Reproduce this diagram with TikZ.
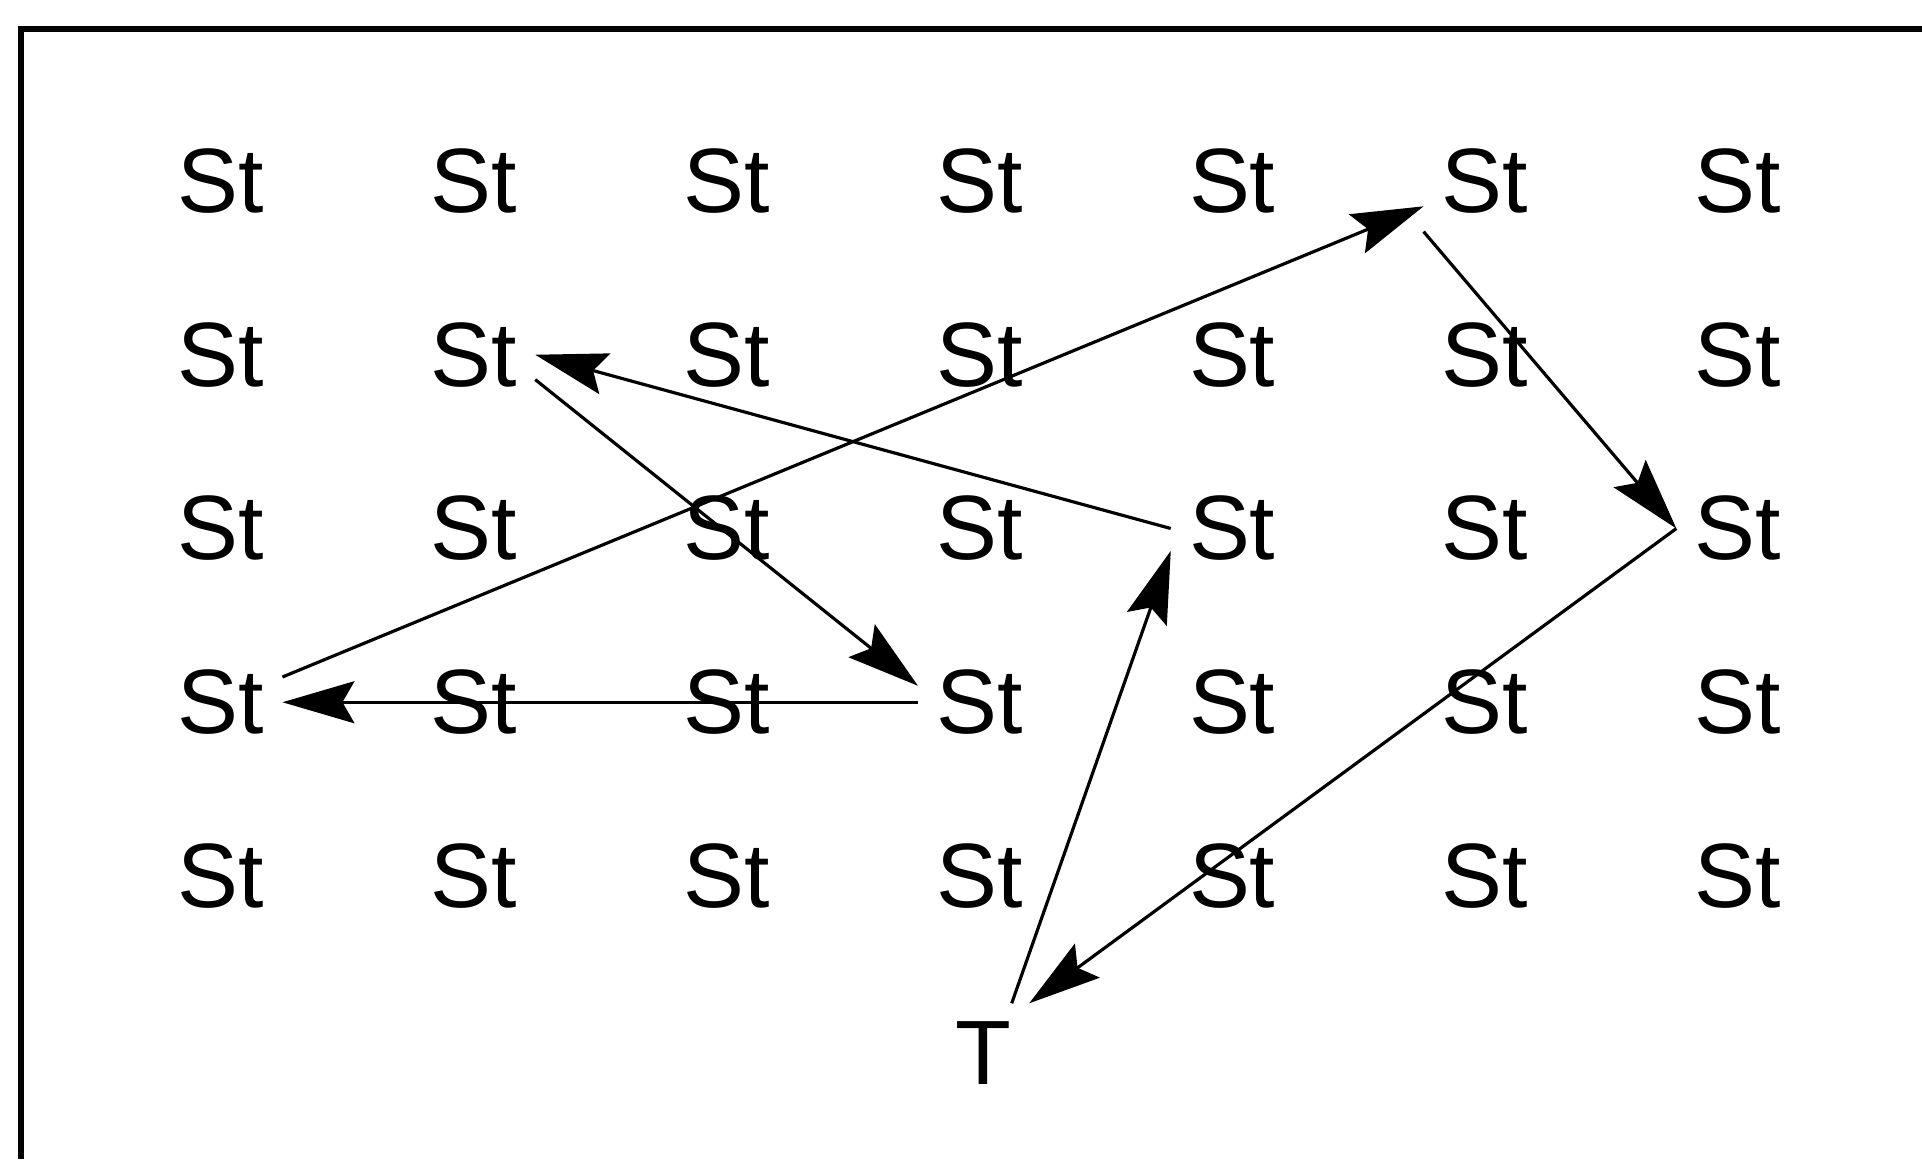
\documentclass[tikz,border=0pt]{standalone}
\usepackage{fontspec}
\setmainfont{Liberation Sans}
\usetikzlibrary{arrows.meta,positioning}
\tikzstyle{st}=[inner sep=5pt, font=\fontsize{26}{30}\selectfont]
\tikzstyle{hop}=[-{Stealth[length=0.72cm,width=0.42cm,inset=0.12cm]}, line width=0.9pt]

\begin{document}
\begin{tikzpicture}[x=1cm,y=1cm]
  \useasboundingbox (0,0) rectangle (19.22,11.59);
  % frame, cut off at right and bottom
  \draw[line width=1.5pt] (0.21,0) -- (0.21,11.30) -- (19.22,11.30);

  % grid of states
  \foreach \r in {1,...,5}
    \foreach \c in {1,...,7}
      \node[st] (st\r\c) at ({2.21+(\c-1)*2.528},{9.78-(\r-1)*1.7375}) {St};
  \node[st] (t) at (9.83,1.06) {T};

  \path[hop] (st41) edge (st16)
        (st16.south west) edge (st37.west)
        (st37.west) edge (t.north east)
        (t.60) edge (st35.200)
        (st35.west) edge (st22.east)
        (st22.338) edge (st44.165)
        (st44) edge (st41);
\end{tikzpicture}
\end{document}
